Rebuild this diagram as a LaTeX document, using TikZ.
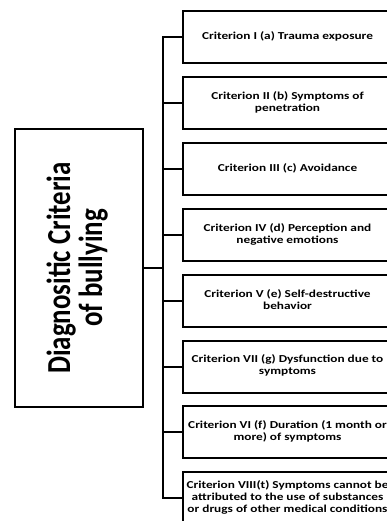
\documentclass[tikz,border=0pt]{standalone}
\usepackage{graphicx}
\usepackage{fontspec}
\setmainfont{Carlito}
\usepackage{tikz}
\tikzstyle{crit} = [draw=black, line width=2pt,
                    rectangle, inner sep=0pt,
                    minimum width=209pt, minimum height=52pt,
                    font=\bfseries\fontsize{13.3}{15}\selectfont]
\tikzstyle{heading} = [crit, minimum width=128pt, minimum height=278pt,
                       font=\bfseries\fontsize{33.6}{36}\selectfont]
\tikzstyle{link} = [line width=2pt]
\newcommand{\crittext}[1]{\scalebox{1}[0.8]{\begin{tabular}{@{}c@{}}#1\end{tabular}}}

\begin{document}
\begin{tikzpicture}[x=1pt, y=-1pt]
  \useasboundingbox (0,0) rectangle (387,521);
  \clip (0,0) rectangle (387,521);
  \node [heading] (title) at (79,268) {%
    \rotatebox{90}{\scalebox{0.8}[1]{%
      \begin{tabular}{@{}c@{}}
        Diagnositic Criteria\\[-4pt]
        of bullying
      \end{tabular}}}
  };
  \node [crit] (cI)    at (287.5,37.5)  {\crittext{Criterion I (a) Trauma exposure}};
  \node [crit] (cII)   at (287.5,103.3) {\crittext{Criterion II (b) Symptoms of\\ penetration}};
  \node [crit] (cIII)  at (287.5,169.1) {\crittext{Criterion III (c) Avoidance}};
  \node [crit] (cIV)   at (287.5,234.9) {\crittext{Criterion IV (d) Perception and\\ negative emotions}};
  \node [crit] (cV)    at (287.5,300.7) {\crittext{Criterion V (e) Self-destructive\\ behavior}};
  \node [crit] (cVII)  at (287.5,366.5) {\crittext{Criterion VII (g) Dysfunction due to\\ symptoms}};
  \node [crit] (cVI)   at (287.5,432.3) {\crittext{Criterion VI (f) Duration (1 month or\\ more) of symptoms\\ }};
  \node [crit] (cVIII) at (287.5,498.1) {\crittext{Criterion VIII(t) Symptoms cannot be\\ attributed to the use of substances\\ or drugs of other medical conditions}};
  % tree
  \coordinate (hub) at (163,268);
  \draw [link] (title.east) -- (hub);
  \draw [link] (cI.west) -- (hub |- cI.west) -- (hub |- cVIII.west) -- (cVIII.west);
  \draw [link] (hub |- cII.west) -- (cII.west);
  \draw [link] (hub |- cIII.west) -- (cIII.west);
  \draw [link] (hub |- cIV.west) -- (cIV.west);
  \draw [link] (hub |- cV.west) -- (cV.west);
  \draw [link] (hub |- cVII.west) -- (cVII.west);
  \draw [link] (hub |- cVI.west) -- (cVI.west);
\end{tikzpicture}
\end{document}
